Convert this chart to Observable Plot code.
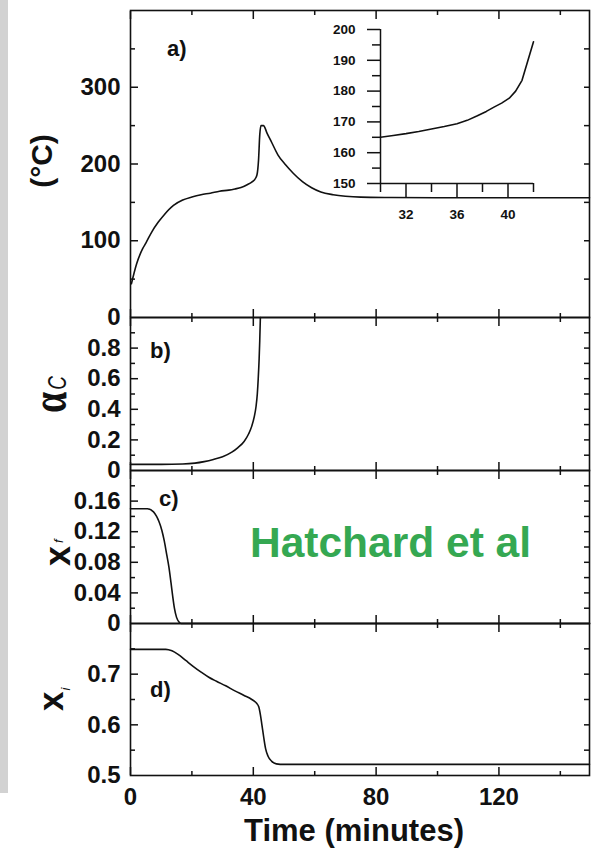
<!DOCTYPE html>
<html>
<head>
<meta charset="utf-8">
<script src="https://cdn.jsdelivr.net/npm/d3@7"></script>
<script src="https://cdn.jsdelivr.net/npm/@observablehq/plot@0.6"></script>
<style>
html, body { margin: 0; padding: 0; background: #fff; }
#chart { position: relative; width: 591px; height: 848px; overflow: hidden; background: #fff; font-family: "Liberation Sans", Arial, sans-serif; }
#graybar { position: absolute; left: 0; top: 0; width: 8px; height: 793px; background: #d2d2d2; }
</style>
</head>
<body>
<div id="chart"><div id="graybar"></div></div>
<script>
// ---------- data ----------
const xMajorTicks = [0, 40, 80, 120];
const xMinorTicks = [20, 60, 100, 140];

// panel a: temperature (°C)
const tempTime = [0.3, 2, 4, 5, 7, 9, 11, 14, 17, 20, 23, 26, 29, 32, 34, 36, 38, 39.5, 40.5, 41.2, 41.7, 42.1, 42.5, 43.3, 44.5, 46, 48, 50.5, 53, 56, 59, 62, 66, 70, 75, 85, 100, 149.5];
const tempC    = [44, 70, 90, 97, 112, 124, 134, 146, 153, 157, 160, 162, 164.5, 166, 167.5, 169.3, 173, 176.5, 180, 186, 205, 238, 250, 250, 240, 228, 212, 199, 188, 177, 169, 163.5, 160, 158, 156.8, 156.3, 156, 156];
const tempLabels = [0, 100, 200, 300];
const tempMajor = [100, 200, 300];
const tempMinor = [50, 150, 250, 350];
const tempRight = [50, 100, 150, 200, 250, 300, 350];

// inset of panel a
const insetTime = [30, 31, 32, 33, 34, 35, 36, 36.8, 37.6, 38.3, 38.9, 39.5, 40.1, 40.6, 41.1, 42];
const insetTemp = [165, 165.6, 166.2, 166.9, 167.7, 168.5, 169.4, 170.5, 172, 173.4, 174.8, 176.1, 177.7, 180, 183.5, 196];
const insetYLabels = [150, 160, 170, 180, 190, 200];
const insetYMinor = [155, 165, 175, 185, 195];
const insetXLabels = [32, 36, 40];
const insetXMinor = [30, 34, 38, 42];

// panel b: alpha_C
const alphaTime = [0, 10, 17, 21, 24, 27, 30, 33, 35, 37, 38.5, 39.5, 40.3, 40.9, 41.3, 41.6, 41.9, 42.1, 42.3];
const alphaC    = [0.04, 0.04, 0.042, 0.048, 0.058, 0.072, 0.09, 0.12, 0.15, 0.19, 0.24, 0.29, 0.35, 0.42, 0.5, 0.6, 0.73, 0.85, 1.0];
const alphaLabels = [0, 0.2, 0.4, 0.6, 0.8];
const alphaMajor = [0.2, 0.4, 0.6, 0.8];
const alphaMinor = [0.1, 0.3, 0.5, 0.7, 0.9];
const alphaRight = [0.1, 0.2, 0.3, 0.4, 0.5, 0.6, 0.7, 0.8, 0.9];

// panel c: x_f
const xfTime = [0, 5.5, 7.5, 8.5, 9.3, 10.2, 11, 11.8, 12.5, 13.2, 13.7, 14.3, 15, 15.8, 16.5, 149.5];
const xfVal  = [0.15, 0.15, 0.146, 0.14, 0.133, 0.122, 0.108, 0.09, 0.074, 0.053, 0.037, 0.02, 0.008, 0.002, 0, 0];
const xfLabels = [0, 0.04, 0.08, 0.12, 0.16];
const xfMajor = [0.04, 0.08, 0.12, 0.16];
const xfMinor = [0.02, 0.06, 0.1, 0.14, 0.18];
const xfRight = [0.02, 0.04, 0.06, 0.08, 0.1, 0.12, 0.14, 0.16, 0.18];

// panel d: x_i
const xiTime = [0, 11.5, 13.5, 15.5, 18, 20.5, 23, 25.5, 28, 31, 34, 37, 39.5, 41, 41.8, 42.3, 42.8, 43.4, 44, 44.8, 46, 47.5, 50, 149.5];
const xiVal  = [0.749, 0.749, 0.746, 0.739, 0.727, 0.715, 0.704, 0.694, 0.686, 0.677, 0.667, 0.658, 0.65, 0.643, 0.635, 0.62, 0.6, 0.575, 0.553, 0.538, 0.528, 0.523, 0.522, 0.522];
const xiLabels = [0.5, 0.6, 0.7];
const xiMajor = [0.6, 0.7];
const xiMinor = [0.55, 0.65, 0.75];
const xiRight = [0.55, 0.6, 0.65, 0.7, 0.75];

const panelTags = ["a)", "b)", "c)", "d)"];
const xTitle = "Time (minutes)";
const noteText = "Hatchard et al";

// ---------- rendering ----------
const W = 591, H = 848;
const INK = "#111";
const FONT = "Liberation Sans, Arial, sans-serif";
const chart = document.getElementById("chart");
const fmt = d => String(d);

function panel({top, bottom, yDomain, times, values, labels, major, minor, right, xLabels = false}) {
  const data = times.map((t, i) => ({t, v: values[i]}));
  const tickStyle = {fill: "none", stroke: INK, strokeWidth: 1.5, label: null};
  const marks = [
    Plot.line(data, {x: "t", y: "v", stroke: INK, strokeWidth: 1.6, curve: "monotone-x"}),
    Plot.frame({stroke: INK, strokeWidth: 1.6}),
    Plot.axisY(major, {anchor: "left", tickSize: -8, ...tickStyle}),
    Plot.axisY(minor, {anchor: "left", tickSize: -5, ...tickStyle}),
    Plot.axisY(right, {anchor: "right", tickSize: -6, ...tickStyle}),
    Plot.axisY(labels, {anchor: "left", tickSize: 0, tickPadding: 10, tickFormat: fmt, fontSize: 24, fontWeight: "bold", fill: INK, label: null}),
    Plot.axisX(xMajorTicks, {anchor: "top", tickSize: -8, ...tickStyle}),
    Plot.axisX(xMinorTicks, {anchor: "top", tickSize: -4, ...tickStyle}),
    Plot.axisX(xMajorTicks, {anchor: "bottom", tickSize: -8, ...tickStyle}),
    Plot.axisX(xMinorTicks, {anchor: "bottom", tickSize: -4, ...tickStyle})
  ];
  if (xLabels) {
    marks.push(Plot.axisX(xMajorTicks, {anchor: "bottom", tickSize: 0, tickPadding: 12, tickFormat: fmt, fontSize: 24, fontWeight: "bold", fill: INK, label: null}));
  }
  const svg = Plot.plot({
    width: W, height: H,
    marginLeft: 130, marginRight: W - 589,
    marginTop: top, marginBottom: H - bottom,
    x: {domain: [0, 149.5], axis: null, label: null},
    y: {domain: yDomain, axis: null, label: null},
    style: {position: "absolute", left: "0px", top: "0px", background: "none", fontFamily: FONT, overflow: "visible"},
    marks
  });
  chart.appendChild(svg);
  return d3.select(svg);
}

const sa = panel({top: 10, bottom: 317, yDomain: [0, 400], times: tempTime, values: tempC, labels: tempLabels, major: tempMajor, minor: tempMinor, right: tempRight});
const sb = panel({top: 317, bottom: 470, yDomain: [0, 1], times: alphaTime, values: alphaC, labels: alphaLabels, major: alphaMajor, minor: alphaMinor, right: alphaRight});
const sc = panel({top: 470, bottom: 623, yDomain: [0, 0.2], times: xfTime, values: xfVal, labels: xfLabels, major: xfMajor, minor: xfMinor, right: xfRight});
const sd = panel({top: 623, bottom: 775, yDomain: [0.5, 0.8], times: xiTime, values: xiVal, labels: xiLabels, major: xiMajor, minor: xiMinor, right: xiRight, xLabels: true});

// panel tags
const tagPos = [[sa, 167, 56], [sb, 150, 358], [sc, 159, 506], [sd, 150, 697]];
tagPos.forEach(([s, x, y], i) => {
  s.append("text").attr("x", x).attr("y", y).attr("text-anchor", "start").attr("font-size", 22).attr("font-weight", "bold")
    .attr("font-family", FONT).attr("fill", INK).text(panelTags[i]);
});

// y titles
sa.append("text").attr("transform", "translate(52,161) rotate(-90)").attr("text-anchor", "middle")
  .attr("font-size", 30).attr("font-weight", "bold").attr("font-family", FONT).attr("fill", INK).text("(°C)");

const ta = sb.append("text").attr("transform", "translate(66,413) rotate(-90) scale(1,1.35)").attr("text-anchor", "start").attr("fill", INK);
ta.append("tspan").attr("font-family", "Liberation Serif, DejaVu Serif, serif").attr("font-weight", "bold").attr("font-size", 38).text("α");
ta.append("tspan").attr("font-family", FONT).attr("font-style", "italic").attr("font-size", 19).attr("dx", 2).text("C");

const tf = sc.append("text").attr("transform", "translate(70,566) rotate(-90)").attr("text-anchor", "start").attr("fill", INK).attr("font-family", FONT);
tf.append("tspan").attr("font-size", 36).attr("font-weight", "bold").text("x");
tf.append("tspan").attr("font-size", 13).attr("font-style", "italic").attr("dx", 3).attr("dy", -7).text("f");

const ti = sd.append("text").attr("transform", "translate(63,711) rotate(-90)").attr("text-anchor", "start").attr("fill", INK).attr("font-family", FONT);
ti.append("tspan").attr("font-size", 35).attr("font-weight", "bold").text("x");
ti.append("tspan").attr("font-size", 13).attr("font-style", "italic").attr("dx", 1).attr("dy", 7).text("i");

// green note
sc.append("text").attr("x", 250).attr("y", 557).attr("text-anchor", "start").attr("font-size", 42.5).attr("font-weight", "bold")
  .attr("font-family", FONT).attr("fill", "#35a852").text(noteText);

// x title
sd.append("text").attr("x", 354).attr("y", 841).attr("text-anchor", "middle").attr("font-size", 31)
  .attr("font-weight", "bold").attr("font-family", FONT).attr("fill", INK).text(xTitle);

// ---------- inset ----------
const insetData = insetTime.map((t, i) => ({t, v: insetTemp[i]}));
const inset = Plot.plot({
  width: 260, height: 240,
  marginLeft: 80, marginRight: 27, marginTop: 29, marginBottom: 57,
  x: {domain: [30, 42], axis: null, label: null},
  y: {domain: [150, 200], axis: null, label: null},
  style: {position: "absolute", left: "300px", top: "0px", background: "none", fontFamily: FONT, overflow: "visible"},
  marks: [
    Plot.ruleX([30], {stroke: INK, strokeWidth: 1.5}),
    Plot.ruleY([150], {stroke: INK, strokeWidth: 1.5}),
    Plot.axisY(insetYLabels, {anchor: "left", tickSize: 13, tickPadding: 12, tickFormat: fmt, fontSize: 13.5, fontWeight: "bold", fill: INK, stroke: INK, strokeWidth: 1.5, label: null}),
    Plot.axisY(insetYMinor, {anchor: "left", tickSize: 8, fill: "none", stroke: INK, strokeWidth: 1.5, label: null}),
    Plot.axisX(insetXLabels, {anchor: "bottom", tickSize: 14, tickPadding: 12, tickFormat: fmt, fontSize: 13.5, fontWeight: "bold", fill: INK, stroke: INK, strokeWidth: 1.5, label: null}),
    Plot.axisX(insetXMinor, {anchor: "bottom", tickSize: 9, fill: "none", stroke: INK, strokeWidth: 1.5, label: null}),
    Plot.line(insetData, {x: "t", y: "v", stroke: INK, strokeWidth: 1.6})
  ]
});
chart.appendChild(inset);
</script>
</body>
</html>
